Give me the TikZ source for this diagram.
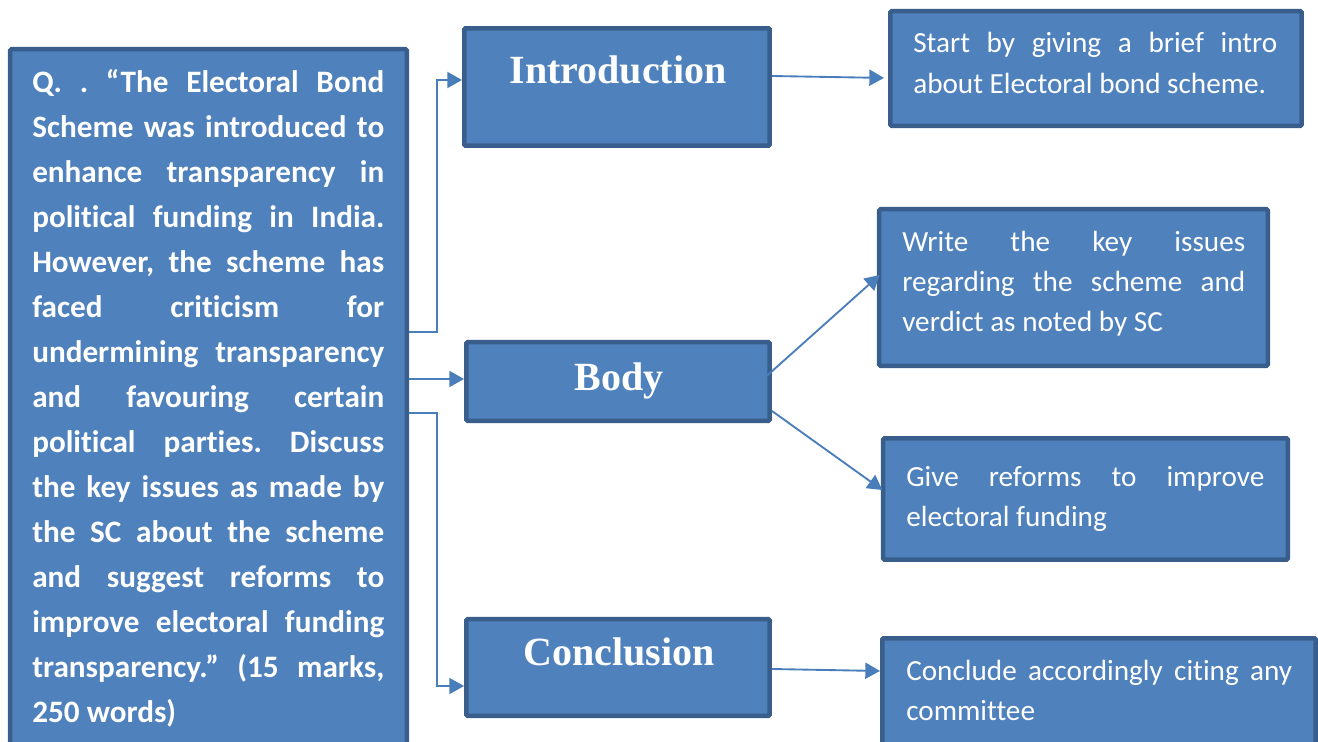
\documentclass[tikz,border=0pt]{standalone}
\usepackage{fontspec}
\setmainfont{Carlito}[Ligatures=NoCommon]
\newfontfamily\headfont{Liberation Serif}
\usetikzlibrary{arrows.meta}

\definecolor{boxfill}{HTML}{4F81BD}
\definecolor{boxline}{HTML}{3A5E8C}
\definecolor{linkcol}{HTML}{4A7EBB}

\newcommand{\jline}[2]{\makebox[#1][s]{#2}}
\frenchspacing

\begin{document}
\begin{tikzpicture}[x=0.75pt,y=-0.75pt,
  panel/.style={draw=boxline,fill=boxfill,line width=3.375pt,rounded corners=1pt,inner sep=0pt},
  heading/.style={text=white,inner sep=0pt,font=\headfont\bfseries\fontsize{30pt}{36pt}\selectfont},
  qtext/.style={text=white,inner sep=0pt,align=left,anchor=north west,font=\bfseries\fontsize{23.4pt}{33.75pt}\selectfont},
  ntext/.style={text=white,inner sep=0pt,align=left,anchor=north west,font=\fontsize{21.9pt}{30pt}\selectfont},
  conn/.style={draw=linkcol,line width=1.4pt,-{Triangle[length=11pt,width=12pt]}}]
\useasboundingbox (0,0) rectangle (1318,742);
\clip (0,0) rectangle (1318,742);

% boxes
\node[panel,minimum width=297.4pt,minimum height=531.4pt] (q) at (208.5,403.5) {};
\node[panel,minimum width=229.1pt,minimum height=88.1pt] (intro) at (617,87) {};
\node[panel,minimum width=227.6pt,minimum height=58.9pt] (body) at (618,381.5) {};
\node[panel,minimum width=227.6pt,minimum height=72.4pt] (concl) at (618,667.5) {};
\node[panel,minimum width=308.6pt,minimum height=85.9pt] (r1) at (1096,68.5) {};
\node[panel,minimum width=291.4pt,minimum height=117.4pt] (r2) at (1073.5,287.5) {};
\node[panel,minimum width=303.4pt,minimum height=91.1pt] (r3) at (1085.5,499) {};
\node[panel,minimum width=325.1pt,minimum height=89.6pt] (r4) at (1099,698) {};

% question text
\node[qtext] (qt) at (32,60.5) {%
\strut\jline{264pt}{Q. . “The Electoral Bond}\\
\strut\jline{264pt}{Scheme was introduced to}\\
\strut\jline{264pt}{enhance transparency in}\\
\strut\jline{264pt}{political funding in India.}\\
\strut\jline{264pt}{However, the scheme has}\\
\strut\jline{264pt}{faced criticism for}\\
\strut\jline{264pt}{undermining transparency}\\
\strut\jline{264pt}{and favouring certain}\\
\strut\jline{264pt}{political parties. Discuss}\\
\strut\jline{264pt}{the key issues as made by}\\
\strut\jline{264pt}{the SC about the scheme}\\
\strut\jline{264pt}{and suggest reforms to}\\
\strut\jline{264pt}{improve electoral funding}\\
\strut\jline{264pt}{transparency.” (15 marks,}\\
\strut 250 words)};

% headings
\node[heading,anchor=base] (introt) at (618,84) {Introduction};
\node[heading,anchor=base] (bodyt) at (619,390) {Body};
\node[heading,anchor=base] (conclt) at (619,665) {Conclusion};

% notes
\node[ntext,font=\fontsize{21.9pt}{30.75pt}\selectfont] (r1t) at (913,23.3) {%
\strut\jline{273pt}{Start by giving a brief intro}\\
\strut about Electoral bond scheme.};
\node[ntext] (r2t) at (902,223.7) {%
\strut\jline{257.25pt}{Write the key issues}\\
\strut\jline{257.25pt}{regarding the scheme and}\\
\strut verdict as noted by SC};
\node[ntext] (r3t) at (906,458.7) {%
\strut\jline{268.5pt}{Give reforms to improve}\\
\strut electoral funding};
\node[ntext] (r4t) at (906,652) {%
\strut\jline{289.5pt}{Conclude accordingly citing any}\\
\strut committee};

% connectors
\draw[conn] (q.east |- 0,332) -- (437,332) |- (intro.west |- 0,80);
\draw[conn] (q.east |- 0,379) -- (body.west |- 0,379);
\draw[conn] (q.east |- 0,413) -- (437,413) |- (concl.west |- 0,686);
\draw[conn,shorten >=3pt] (intro.east |- 0,76) -- (r1.west |- 0,78);
\draw[conn] ([xshift=-4pt]body.east |- 0,376) -- ([xshift=2pt]r2.west |- 0,275);
\draw[conn] (body.east |- 0,411) -- ([xshift=1pt]r3.west |- 0,490);
\draw[conn] (concl.east |- 0,669) -- (r4.west |- 0,671);
\end{tikzpicture}
\end{document}
